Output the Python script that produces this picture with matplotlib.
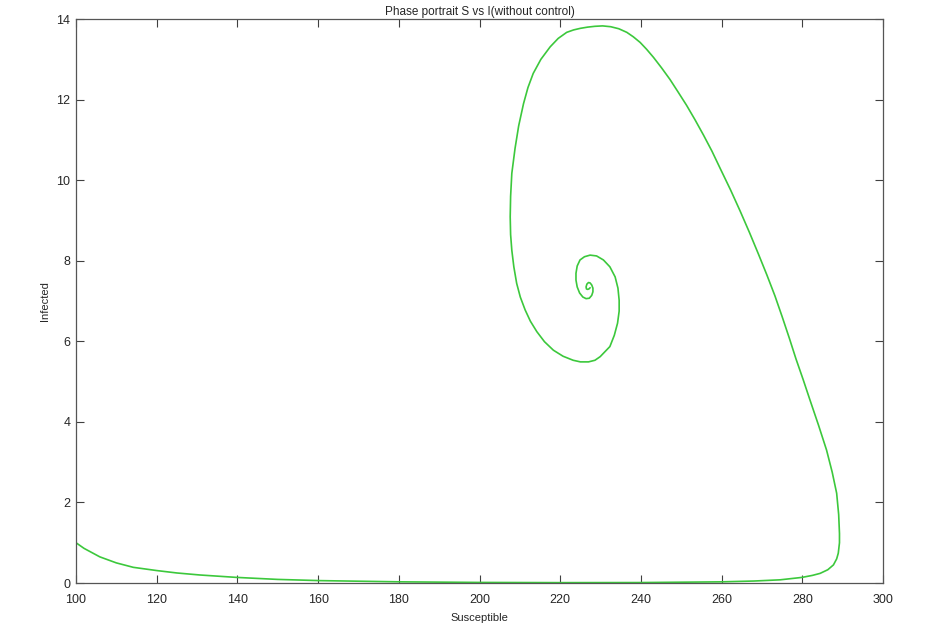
# -*- coding: utf-8 -*-
import numpy as np
import matplotlib
matplotlib.use('Agg')
import matplotlib.pyplot as plt

plt.rcParams['font.family'] = ['Liberation Sans', 'DejaVu Sans']

# Trayectoria (S, I), desde la izquierda hacia la espiral
susceptible = [100.0, 102.0, 105.9, 110.0, 114.2, 120.0, 125.0, 130.7, 139.8,
               150.0, 160.5, 180.3, 200.0, 220.0, 240.0, 260.0, 268.0, 274.5,
               279.9, 282.5, 284.4, 286.3, 287.7, 288.5, 288.9, 289.2, 289.2,
               289.0, 288.5, 287.4, 286.0, 284.0, 281.9, 280.2, 278.4, 276.8,
               275.0, 273.2, 271.2, 269.1, 266.9, 264.6, 262.2, 259.6, 257.6,
               255.5, 253.4, 251.3, 249.2, 247.2, 245.1, 243.1, 241.4, 239.8,
               238.1, 236.5, 234.5, 232.5, 230.5, 228.6, 226.8, 225.0, 223.3,
               221.6, 219.5, 217.5, 215.2, 213.3, 212.0, 210.9, 209.7, 208.8,
               208.0, 207.7, 207.6, 207.7, 208.0, 208.5, 209.2, 210.1, 211.3,
               212.6, 214.2, 216.1, 218.3, 220.7, 223.2, 225.0, 227.0, 228.6,
               229.9, 232.3, 233.4, 234.2, 234.6, 234.6, 234.3, 233.6, 232.3,
               230.7, 229.0, 227.4, 226.0, 224.9, 224.2, 223.9, 223.9, 224.2,
               224.8, 225.6, 226.4, 227.2, 227.8, 228.1, 228.1, 227.8, 227.4,
               227.0, 226.6, 226.4, 226.5, 226.8, 227.1, 227.4]
infected = [1.00, 0.86, 0.65, 0.50, 0.39, 0.31, 0.25, 0.20, 0.14,
            0.09, 0.06, 0.03, 0.015, 0.01, 0.012, 0.03, 0.05, 0.08,
            0.14, 0.19, 0.24, 0.33, 0.45, 0.60, 0.74, 1.00, 1.23,
            1.70, 2.23, 2.75, 3.30, 3.92, 4.54, 5.05, 5.57, 6.07,
            6.61, 7.13, 7.65, 8.17, 8.70, 9.23, 9.76, 10.30, 10.72,
            11.12, 11.50, 11.86, 12.19, 12.50, 12.79, 13.05, 13.25, 13.42,
            13.56, 13.67, 13.76, 13.81, 13.83, 13.82, 13.80, 13.77, 13.73,
            13.67, 13.52, 13.31, 13.00, 12.65, 12.30, 11.90, 11.35, 10.79,
            10.17, 9.60, 9.09, 8.65, 8.26, 7.85, 7.44, 7.10, 6.78,
            6.50, 6.24, 5.99, 5.78, 5.63, 5.53, 5.49, 5.49, 5.53,
            5.62, 5.87, 6.15, 6.45, 6.75, 7.02, 7.32, 7.60, 7.85,
            8.02, 8.12, 8.14, 8.10, 8.02, 7.87, 7.69, 7.52, 7.35,
            7.20, 7.10, 7.06, 7.07, 7.14, 7.23, 7.32, 7.40, 7.45,
            7.46, 7.42, 7.35, 7.30, 7.29, 7.30, 7.33]

x_ticks = [100, 120, 140, 160, 180, 200, 220, 240, 260, 280, 300]
y_ticks = [0, 2, 4, 6, 8, 10, 12, 14]

fig = plt.figure(figsize=(9.27, 6.31), dpi=100)
ax = fig.add_axes([0.082, 0.076, 0.8706, 0.8938])

ax.plot(susceptible, infected, color='#3cc83c', lw=1.2,
        solid_joinstyle='round', solid_capstyle='round')

ax.set_xlim(100, 300)
ax.set_ylim(0, 14)
ax.set_xticks(x_ticks)
ax.set_yticks(y_ticks)

# Estilo tipo MATLAB: caja completa, ticks hacia adentro
ax.tick_params(direction='in', top=True, right=True, length=6, width=0.8,
               color='#404040', labelsize=9, labelcolor='#262626', pad=4)
ax.tick_params(axis='x', pad=8)
for sp in ax.spines.values():
    sp.set_color('#555555')
    sp.set_linewidth(0.9)

ax.set_title('Phase portrait S vs I(without control)', fontsize=8.5,
             color='#262626', pad=3)
ax.set_xlabel('Susceptible', fontsize=8, color='#262626', labelpad=5)
ax.set_ylabel('Infected', fontsize=8, color='#262626', labelpad=5)

fig.savefig('out.png', dpi=100)
